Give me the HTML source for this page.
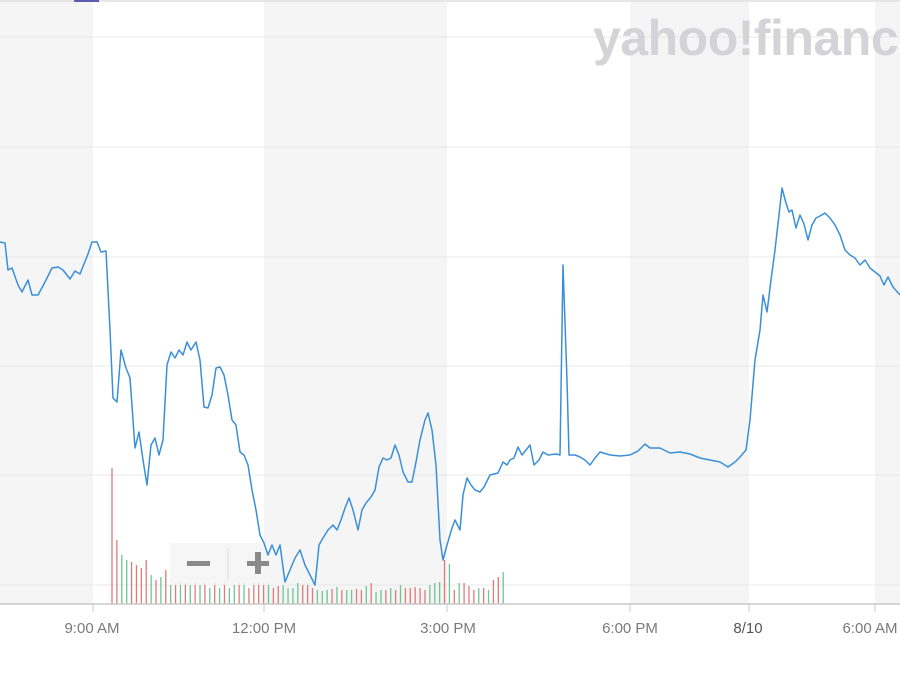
<!DOCTYPE html>
<html><head><meta charset="utf-8"><style>
html,body{margin:0;padding:0;background:#fff;width:900px;height:675px;overflow:hidden}
svg{display:block}
</style></head><body>
<svg id="s" width="900" height="675" xmlns="http://www.w3.org/2000/svg" font-family="Liberation Sans, sans-serif">
<rect x="0" y="0" width="900" height="604" fill="#f5f5f6"/>
<rect x="93" y="0" width="171" height="604" fill="#fff"/>
<rect x="447" y="0" width="183" height="604" fill="#fff"/>
<rect x="749" y="0" width="126" height="604" fill="#fff"/>
<rect x="0" y="0" width="900" height="2" fill="#e6e6e6"/>
<rect x="74" y="0" width="25" height="2" fill="#5b5bb0"/>
<g stroke="#e8e8e8" stroke-width="1">
<line x1="0" x2="900" y1="37" y2="37"/><line x1="0" x2="900" y1="147" y2="147"/>
<line x1="0" x2="900" y1="257" y2="257"/><line x1="0" x2="900" y1="366" y2="366"/>
<line x1="0" x2="900" y1="475" y2="475"/><line x1="0" x2="900" y1="585" y2="585"/>
</g>
<text x="593" y="55" font-size="50" font-weight="bold" fill="#d4d4d8" letter-spacing="-0.5">yahoo!finance</text>
<g id="bars" stroke-width="1.3"></g>
<g>
<rect x="170" y="543" width="118" height="42" fill="#f4f4f4" opacity="0.85"/>
<line x1="228" y1="548" x2="228" y2="580" stroke="#ddd"/>
<rect x="187" y="561" width="23" height="5" fill="#8a8a8a"/>
<rect x="247" y="561" width="22" height="5" fill="#8a8a8a"/>
<rect x="255" y="552" width="6" height="22" fill="#8a8a8a"/>
</g>
<polyline fill="none" stroke="#3a8fd9" stroke-width="1.5" stroke-linejoin="round" points="0,242 5,243 8,270 12,268 18,285 22,292 28,280 32,295 38,295 45,282 52,268 58,267 63,270 70,279 75,271 80,274 88,254 92,242 97,242 101,252 106,251 110,330 113,398 117,402 121,350 126,368 130,378 135,448 139,432 143,460 147,485 151,445 155,438 159,455 163,440 167,365 171,352 175,358 179,350 183,355 187,342 191,350 196,342 200,360 204,407 208,408 212,395 216,368 220,367 224,375 228,395 232,420 236,425 240,452 244,455 248,465 252,490 256,510 260,535 264,543 268,555 272,545 276,555 280,545 285,582 290,570 295,558 300,550 305,565 310,575 315,585 319,545 323,538 328,530 333,525 337,530 341,520 345,508 349,498 353,510 358,530 362,510 366,503 371,497 375,490 379,467 383,458 387,460 391,458 395,445 399,455 403,472 408,482 412,482 416,462 420,440 425,420 428,413 432,430 436,465 440,540 443,560 447,545 452,528 455,520 460,530 463,495 467,478 471,485 475,490 480,492 484,487 490,475 494,474 498,473 503,462 507,465 510,460 514,458 518,447 522,455 526,450 530,445 534,465 539,460 543,452 548,455 556,454 560,455 563,265 567,380 569,455 575,455 580,457 585,460 590,465 595,458 600,452 610,455 620,456 630,455 638,451 645,444 650,448 660,448 670,453 680,452 690,454 700,458 710,460 720,462 728,467 735,462 740,457 746,450 750,420 755,360 760,330 763,295 767,312 771,280 775,250 779,215 782,188 786,203 789,212 792,210 796,228 800,215 804,224 808,240 812,225 816,218 820,216 825,213 830,218 835,225 840,235 845,250 850,255 855,258 860,265 865,260 870,268 875,272 880,276 884,285 888,277 893,287 900,295"/>
<line x1="0" x2="900" y1="604" y2="604" stroke="#c8c8c8" stroke-width="1.5"/>
<g stroke="#c8c8c8"><line x1="93" x2="93" y1="604" y2="612"/><line x1="264" x2="264" y1="604" y2="612"/><line x1="447" x2="447" y1="604" y2="612"/><line x1="630" x2="630" y1="604" y2="612"/><line x1="749" x2="749" y1="604" y2="612"/><line x1="875" x2="875" y1="604" y2="612"/></g>
<g font-size="15" fill="#7a7a7a" text-anchor="middle">
<text x="92" y="633">9:00 AM</text><text x="264" y="633">12:00 PM</text><text x="448" y="633">3:00 PM</text><text x="630" y="633">6:00 PM</text><text x="748" y="633" fill="#555">8/10</text><text x="870" y="633">6:00 AM</text>
</g>
</svg>
<script>
var g=document.getElementById('bars');
var tops=[468,540,555,560,562,565,568,560,575,580,577,570,585,583,583,583,585,583,585,583,588,583,588,583,588,585,583,583,588,583,583,583,583,588,586,585,588,588,583,585,585,588,590,591,590,589,587,590,590,590,589,590,586,583,592,590,590,588,590,585,588,588,587,588,590,585,583,582,560,564,590,583,583,586,590,588,588,590,580,577,572];
var cols="rrggrrrrgrgrgrgrgrgrgrgrggrgrrrrgrrggggrrrgggrgrggrrgrggrgrgrrrrrgggrgrgrrrgrgrr";
for(var i=0;i<tops.length;i++){var x=112+i*4.89;var l=document.createElementNS('http://www.w3.org/2000/svg','line');l.setAttribute('x1',x);l.setAttribute('x2',x);l.setAttribute('y1',604);l.setAttribute('y2',tops[i]);l.setAttribute('stroke',cols[i]=='r'?'#e07a7a':'#6cc594');g.appendChild(l);}
</script>
</body></html>
